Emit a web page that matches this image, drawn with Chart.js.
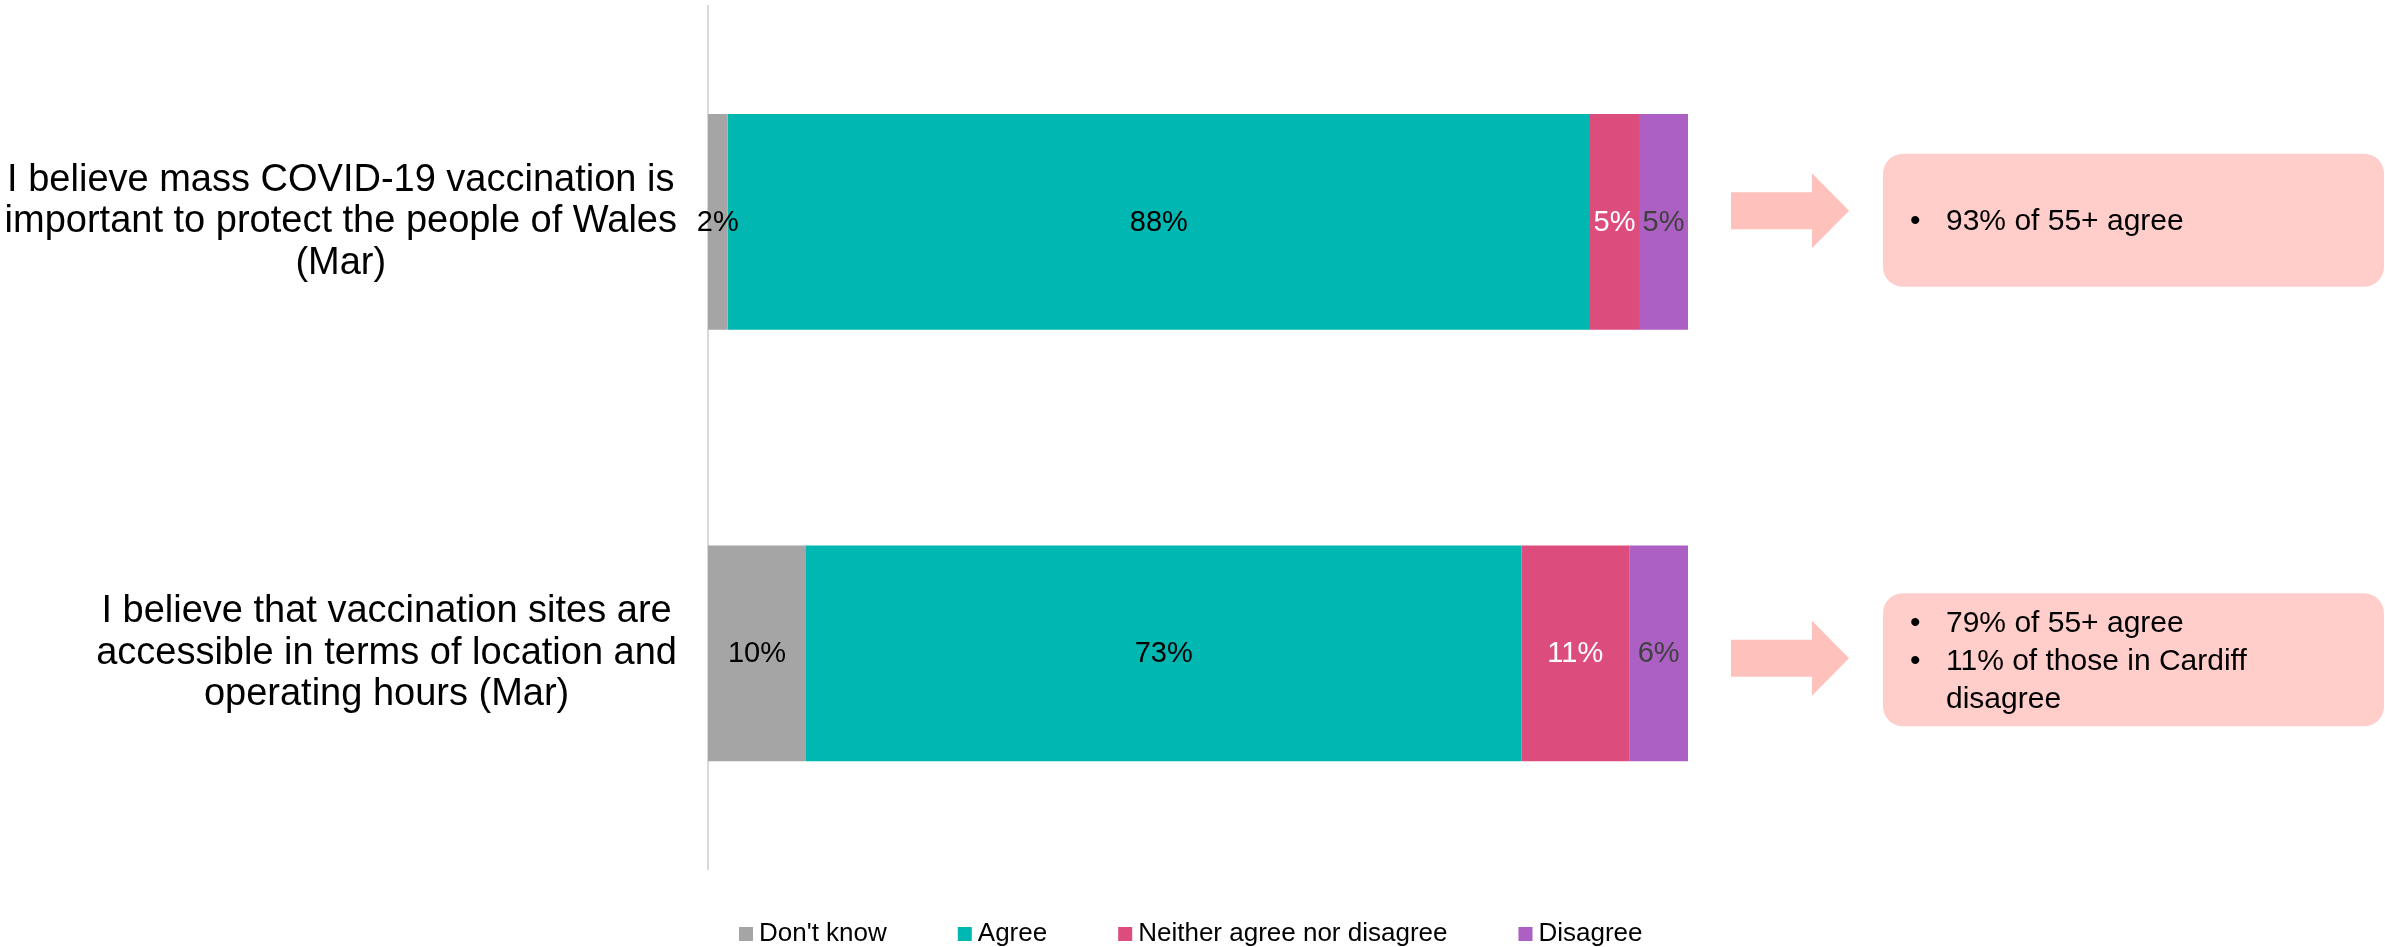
<!DOCTYPE html>
<html>
<head>
<meta charset="utf-8">
<script src="https://cdn.jsdelivr.net/npm/chart.js@4.4.1/dist/chart.umd.min.js"></script>
<style>
  html, body { margin: 0; padding: 0; background: #fff; }
</style>
</head>
<body>
<canvas id="chart" width="2385" height="947"></canvas>
<script>
// data
const categories = [
  ['I believe mass COVID-19 vaccination is', 'important to protect the people of Wales', '(Mar)'],
  ['I believe that vaccination sites are', 'accessible in terms of location and', 'operating hours (Mar)'],
];
const seriesNames = ["Don't know", 'Agree', 'Neither agree nor disagree', 'Disagree'];
const dontKnow = [2, 10];
const agree    = [88, 73];
const neither  = [5, 11];
const disagree = [5, 6];
const callouts = [
  ['93% of 55+ agree'],
  ['79% of 55+ agree', '11% of those in Cardiff disagree'],
];

const colors     = ['#A5A5A5', '#00B7B2', '#DC4D7E', '#AC60C3'];
const textColors = ['#000000', '#000000', '#FFFFFF', '#404040'];
const FONT = '"Liberation Sans", Arial, sans-serif';

function wrap(ctx, text, maxW) {
  const words = text.split(' ');
  const lines = [];
  let cur = '';
  words.forEach(w => {
    const test = cur ? cur + ' ' + w : w;
    if (cur && ctx.measureText(test).width > maxW) {
      lines.push(cur);
      cur = w;
    } else {
      cur = test;
    }
  });
  if (cur) lines.push(cur);
  return lines;
}

const extras = {
  id: 'extras',
  afterDatasetsDraw(chart) {
    const { ctx } = chart;
    const yScale = chart.scales.y;
    ctx.save();

    // category labels: block right-aligned, lines centred inside the block
    ctx.font = `38px ${FONT}`;
    ctx.fillStyle = '#000';
    ctx.textAlign = 'center';
    ctx.textBaseline = 'middle';
    categories.forEach((lines, i) => {
      const y = yScale.getPixelForValue(i);
      const widest = Math.max(...lines.map(l => ctx.measureText(l).width));
      const cx = 677 - widest / 2;
      lines.forEach((l, j) => {
        ctx.fillText(l, cx, y + (j - (lines.length - 1) / 2) * 41.5);
      });
    });

    // value labels in the middle of each segment
    ctx.font = `29px ${FONT}`;
    chart.data.datasets.forEach((ds, d) => {
      const meta = chart.getDatasetMeta(d);
      ctx.fillStyle = textColors[d];
      meta.data.forEach((bar, i) => {
        ctx.fillText(ds.data[i] + '%', (bar.x + bar.base) / 2, bar.y + 1);
      });
    });

    // arrows and callout boxes
    const arrowOffsets = [-11, 5];
    const boxOffsets = [-2, 6];
    categories.forEach((_, i) => {
      const y = yScale.getPixelForValue(i);
      const ay = y + arrowOffsets[i];
      ctx.fillStyle = '#FFC1BB';
      ctx.beginPath();
      ctx.moveTo(1731, ay - 18.5);
      ctx.lineTo(1812, ay - 18.5);
      ctx.lineTo(1812, ay - 37.5);
      ctx.lineTo(1849, ay);
      ctx.lineTo(1812, ay + 37.5);
      ctx.lineTo(1812, ay + 18.5);
      ctx.lineTo(1731, ay + 18.5);
      ctx.closePath();
      ctx.fill();

      const by = y + boxOffsets[i];
      ctx.fillStyle = '#FFCDCA';
      ctx.beginPath();
      ctx.roundRect(1883, by - 66, 501, 133, 20);
      ctx.fill();

      ctx.font = `30px ${FONT}`;
      ctx.fillStyle = '#000';
      ctx.textAlign = 'left';
      const rows = [];
      callouts[i].forEach(txt => {
        wrap(ctx, txt, 400).forEach((l, k) => rows.push({ text: l, bullet: k === 0 }));
      });
      rows.forEach((r, k) => {
        const ty = by + 2 + (k - (rows.length - 1) / 2) * 38;
        if (r.bullet) ctx.fillText('\u2022', 1910, ty);
        ctx.fillText(r.text, 1946, ty);
      });
      ctx.textAlign = 'center';
    });

    // legend
    ctx.font = `26px ${FONT}`;
    ctx.textAlign = 'left';
    let lx = 739;
    const ly = 934;
    seriesNames.forEach((name, d) => {
      ctx.fillStyle = colors[d];
      ctx.fillRect(lx, ly - 7, 14, 14);
      ctx.fillStyle = '#000';
      ctx.fillText(name, lx + 20, ly);
      lx += 20 + ctx.measureText(name).width + 71;
    });

    ctx.restore();
  },
};

const datasets = [dontKnow, agree, neither, disagree].map((vals, d) => ({
  label: seriesNames[d],
  data: vals,
  backgroundColor: colors[d],
  borderWidth: 0,
  barPercentage: 0.5,
  categoryPercentage: 1,
}));

new Chart(document.getElementById('chart'), {
  type: 'bar',
  data: { labels: categories, datasets },
  options: {
    indexAxis: 'y',
    responsive: false,
    animation: false,
    layout: { padding: { left: 708, right: 697, top: 6, bottom: 78 } },
    scales: {
      x: { stacked: true, display: false, min: 0, max: 100 },
      y: {
        stacked: true,
        grid: { display: false, drawTicks: false },
        ticks: { display: false },
        border: { display: true, color: '#D9D9D9', width: 2 },
      },
    },
    plugins: {
      legend: { display: false },
      tooltip: { enabled: false },
    },
  },
  plugins: [extras],
});
</script>
</body>
</html>
